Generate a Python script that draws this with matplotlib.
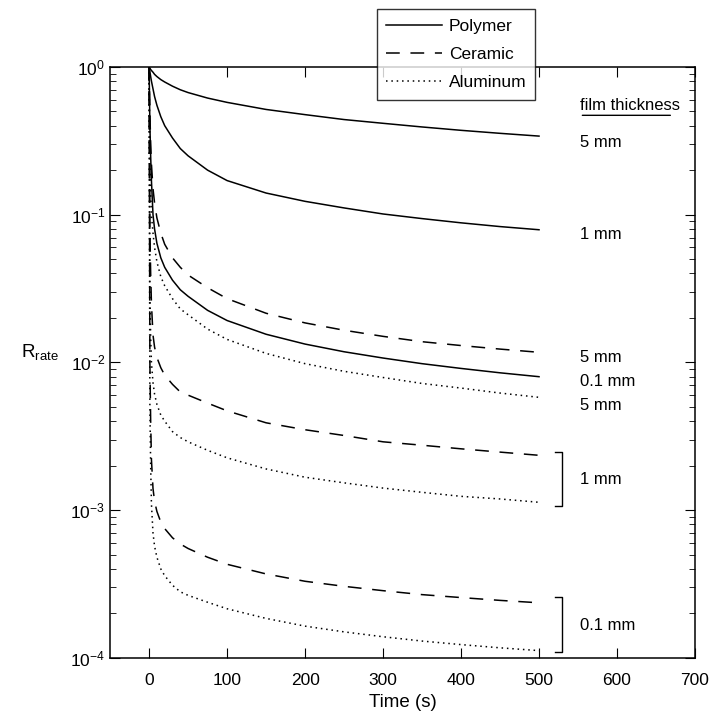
import numpy as np
import matplotlib.pyplot as plt

plt.rcParams['font.family'] = ['Liberation Sans', 'DejaVu Sans']
plt.rcParams['mathtext.fontset'] = 'custom'
plt.rcParams['mathtext.rm'] = 'Liberation Sans'
plt.rcParams['mathtext.it'] = 'Liberation Sans'

# time points (s)
t = [0, 1, 2, 3, 5, 7, 10, 15, 20, 30, 40, 50, 75, 100, 150, 200, 250, 300, 350, 400, 450, 500]

# polymer
poly_5 = [1, 0.98, 0.96, 0.945, 0.92, 0.89, 0.86, 0.82, 0.79, 0.74, 0.70, 0.67, 0.615, 0.575,
          0.515, 0.475, 0.44, 0.415, 0.392, 0.372, 0.355, 0.34]
poly_1 = [1, 0.93, 0.86, 0.80, 0.71, 0.63, 0.55, 0.46, 0.40, 0.33, 0.28, 0.25, 0.20, 0.17,
          0.14, 0.123, 0.111, 0.101, 0.094, 0.088, 0.083, 0.079]
poly_01 = [1, 0.4, 0.25, 0.17, 0.1, 0.08, 0.064, 0.051, 0.044, 0.036, 0.031, 0.028, 0.0225, 0.0192,
           0.0155, 0.0133, 0.0118, 0.0107, 0.0098, 0.0091, 0.0085, 0.008]
# ceramic
cer_5 = [1, 0.5, 0.3, 0.22, 0.15, 0.12, 0.095, 0.075, 0.063, 0.051, 0.044, 0.039, 0.032,
         0.027, 0.0215, 0.0185, 0.0165, 0.015, 0.0138, 0.013, 0.0123, 0.0117]
cer_1 = [1, 0.08, 0.04, 0.025, 0.0153, 0.0127, 0.0108, 0.0092, 0.0082, 0.0071, 0.0063, 0.006,
         0.0053, 0.0047, 0.0039, 0.0035, 0.0032, 0.0029, 0.00275, 0.0026, 0.00247, 0.00235]
cer_01 = [1, 0.01, 0.004, 0.0022, 0.0014, 0.00115, 0.00098, 0.00083, 0.00075, 0.00065, 0.00059,
          0.00055, 0.00048, 0.00043, 0.00037, 0.00033, 0.000305, 0.000285, 0.000268, 0.000256,
          0.000245, 0.000236]
# aluminum
al_5 = [1, 0.25, 0.14, 0.1, 0.075, 0.06, 0.048, 0.038, 0.033, 0.027, 0.023, 0.021, 0.0168,
        0.0143, 0.0115, 0.0098, 0.0087, 0.0079, 0.0072, 0.0067, 0.0062, 0.0058]
al_1 = [1, 0.03, 0.015, 0.01, 0.0073, 0.0061, 0.0052, 0.0044, 0.004, 0.0034, 0.0031, 0.0029,
        0.00254, 0.00226, 0.0019, 0.00167, 0.00153, 0.00141, 0.00132, 0.00124, 0.00119, 0.00113]
al_01 = [1, 0.005, 0.002, 0.0011, 0.0007, 0.00057, 0.00048, 0.0004, 0.00036, 0.00031, 0.00028,
         0.000265, 0.000238, 0.000215, 0.000185, 0.000164, 0.00015, 0.000139, 0.00013,
         0.000123, 0.000117, 0.000112]

fig = plt.figure(figsize=(7.15, 7.19), dpi=100)
ax = fig.add_axes([0.154, 0.085, 0.818, 0.822])

dash = (0, (9, 7))
dot = (0, (1, 2.5))
lw = 1.1

l1, = ax.plot(t, poly_5, 'k-', lw=lw, label='Polymer')
ax.plot(t, poly_1, 'k-', lw=lw)
ax.plot(t, poly_01, 'k-', lw=lw)
l2, = ax.plot(t, cer_5, color='k', ls=dash, lw=lw, label='Ceramic')
ax.plot(t, cer_1, color='k', ls=dash, lw=lw)
ax.plot(t, cer_01, color='k', ls=dash, lw=lw)
l3, = ax.plot(t, al_5, color='k', ls=dot, lw=lw, label='Aluminum')
ax.plot(t, al_1, color='k', ls=dot, lw=lw)
ax.plot(t, al_01, color='k', ls=dot, lw=lw)

ax.set_yscale('log')
ax.set_xlim(-50, 700)
ax.set_ylim(1e-4, 1)
ax.set_xticks(range(0, 701, 100))
ax.tick_params(which='both', direction='in', top=True, right=True, labelsize=12.5)
ax.tick_params(which='major', length=7)
ax.tick_params(which='minor', length=4)
ax.tick_params(axis='x', pad=11)
for s in ax.spines.values():
    s.set_linewidth(1.1)

ax.set_xlabel('Time (s)', fontsize=13.5, labelpad=4)
ax.set_ylabel(r'R$_{\rm rate}$', fontsize=13.5, rotation=0)
ax.yaxis.set_label_coords(-0.12, 0.5)

# thickness labels
ax.text(552, 0.55, 'film thickness', fontsize=12, ha='left', va='center')
ax.annotate('', xy=(552, 0.47), xytext=(672, 0.47),
            arrowprops=dict(arrowstyle='-', lw=1))
lab_y = [0.31, 0.073, 0.0108, 0.0074, 0.0051, 0.0016, 0.000165]
lab_txt = ['5 mm', '1 mm', '5 mm', '0.1 mm', '5 mm', '1 mm', '0.1 mm']
for y, s in zip(lab_y, lab_txt):
    ax.text(552, y, s, fontsize=12, ha='left', va='center')

# brackets
brk = [(0.00246, 0.00107), (0.000258, 0.00011)]
for top, bot in brk:
    ax.plot([520, 530, 530, 520], [top, top, bot, bot], 'k-', lw=1)

leg = ax.legend(handles=[l1, l2, l3], loc='lower left', bbox_to_anchor=(0.456, 0.944, 0.271, 0.156),
                mode='expand', fontsize=12.5, frameon=True, fancybox=False,
                edgecolor='k', handlelength=3.2, handletextpad=0.4,
                borderaxespad=0, labelspacing=0.75, borderpad=0.55)
leg.get_frame().set_linewidth(1)

fig.savefig('out.png', dpi=100)
